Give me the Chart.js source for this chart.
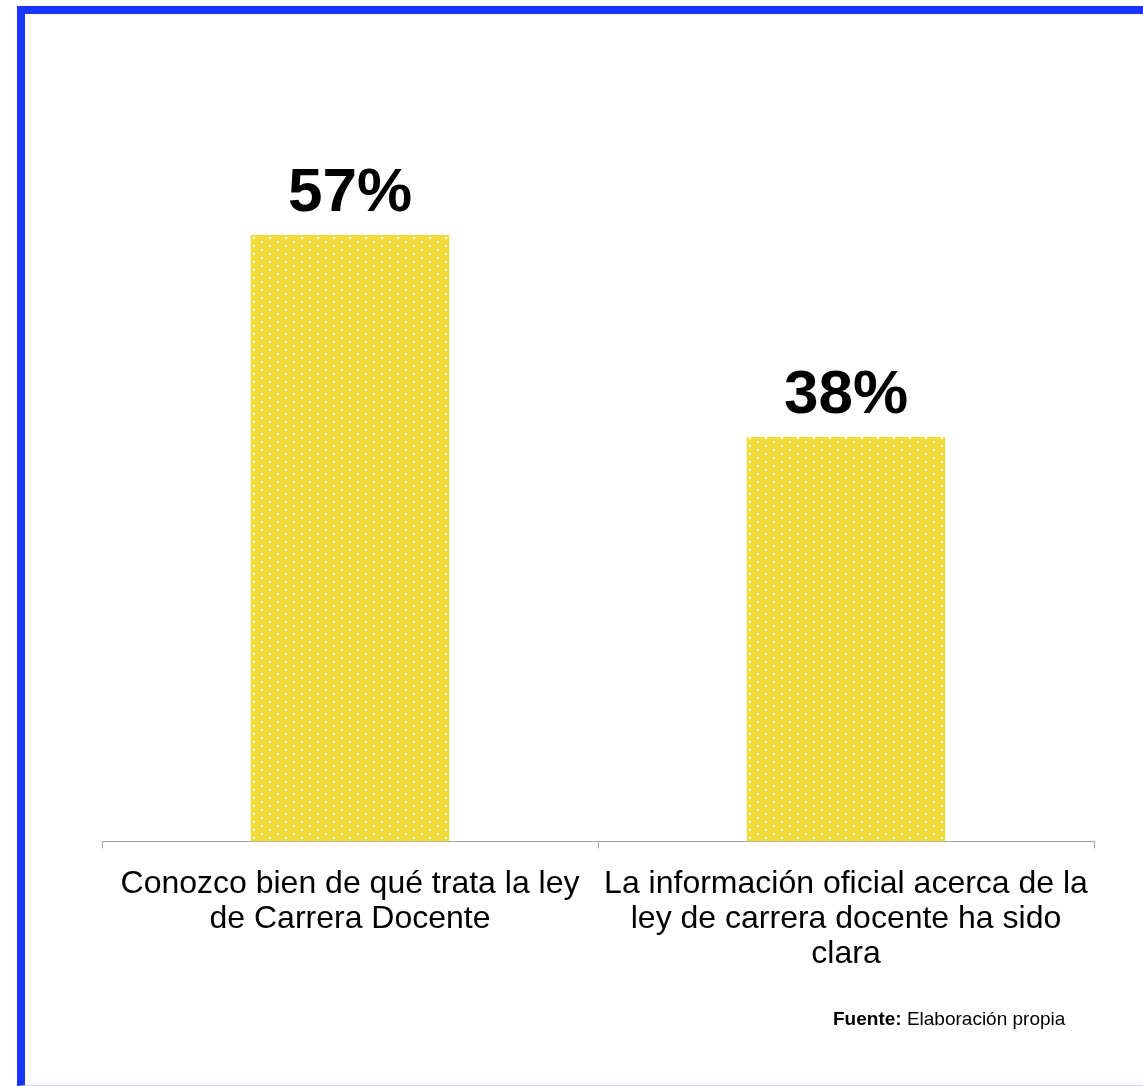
<!DOCTYPE html>
<html>
<head>
<meta charset="utf-8">
<script src="https://cdn.jsdelivr.net/npm/chart.js@4"></script>
<style>
  html, body { margin: 0; padding: 0; background: #fff; overflow: hidden; }
  #wrap { position: relative; width: 1143px; height: 1086px; }
  #frame {
    position: absolute; left: 17px; top: 6px; width: 1200px; height: 1071px;
    border-left: 8px solid #1a33ff; border-top: 8px solid #1a33ff;
    border-bottom: 1px solid #c8d0ff;
  }
  #chart { position: absolute; left: 0; top: 0; }
  #fuente {
    position: absolute; left: 833px; top: 1008px;
    font: 19px "Liberation Sans", Arial, sans-serif; color: #000;
  }
</style>
</head>
<body>
<div id="wrap">
  <div id="frame"></div>
  <canvas id="chart" width="1143" height="1086"></canvas>
  <div id="fuente"><b>Fuente:</b> Elaboración propia</div>
</div>
<script>
// --- datos del gráfico ---
const categorias = [
  ['Conozco bien de qué trata la ley', 'de Carrera Docente'],
  ['La información oficial acerca de la', 'ley de carrera docente ha sido', 'clara']
];
const porcentajes = [57, 38];
const etiquetas = ['57%', '38%'];

// patrón amarillo con puntos blancos
function crearPatron(ctx) {
  const tile = document.createElement('canvas');
  tile.width = 16; tile.height = 8;
  const t = tile.getContext('2d');
  t.fillStyle = '#efdc3b';
  t.fillRect(0, 0, 16, 8);
  t.fillStyle = '#ffffff';
  t.fillRect(13, 5, 2, 2);
  t.fillRect(5, 1, 2, 2);
  return ctx.createPattern(tile, 'repeat');
}

// etiquetas de valor sobre cada barra
const etiquetasPlugin = {
  id: 'etiquetas',
  afterDatasetsDraw(chart) {
    const ctx = chart.ctx;
    const meta = chart.getDatasetMeta(0);
    ctx.save();
    ctx.font = 'bold 62px "Liberation Sans", Arial, sans-serif';
    ctx.fillStyle = '#000';
    ctx.textAlign = 'center';
    ctx.textBaseline = 'alphabetic';
    meta.data.forEach((bar, i) => {
      ctx.fillText(etiquetas[i], bar.x, bar.y - 24);
    });
    ctx.restore();
  }
};

const canvas = document.getElementById('chart');
const ctx = canvas.getContext('2d');

new Chart(canvas, {
  type: 'bar',
  data: {
    labels: categorias,
    datasets: [{
      data: porcentajes,
      backgroundColor: crearPatron(ctx),
      borderWidth: 0,
      barPercentage: 1,
      categoryPercentage: 0.4
    }]
  },
  options: {
    responsive: false,
    animation: false,
    layout: { padding: { left: 102, right: 49, top: 203, bottom: 96 } },
    plugins: { legend: { display: false }, tooltip: { enabled: false } },
    scales: {
      y: { display: false, min: 0, max: 60 },
      x: {
        grid: { drawOnChartArea: false, drawTicks: true, tickLength: 7, color: '#a6a6a6', offset: true },
        border: { color: '#a6a6a6', width: 1 },
        ticks: {
          color: '#000',
          padding: 18,
          maxRotation: 0,
          autoSkip: false,
          font: { family: '"Liberation Sans", Arial, sans-serif', size: 32, lineHeight: 1.1 }
        }
      }
    }
  },
  plugins: [etiquetasPlugin]
});
</script>
</body>
</html>
